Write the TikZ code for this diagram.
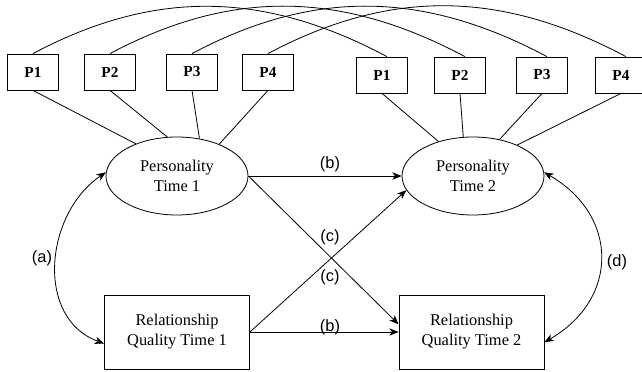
\documentclass[tikz,border=0pt]{standalone}
\usepackage{fontspec}
\setmainfont{Liberation Serif}
\setsansfont{Liberation Sans}
\usetikzlibrary{shapes.geometric,arrows.meta}

\tikzset{
  ind/.style={draw,minimum width=38.25pt,minimum height=27pt,inner sep=0pt,
    font=\fontsize{11.5}{13}\selectfont\bfseries},
  latent/.style={draw,ellipse,minimum width=106.5pt,minimum height=58.5pt,
    inner sep=0pt,align=center,font=\fontsize{12.3}{15}\selectfont},
  observed/.style={draw,minimum width=108.75pt,minimum height=55.5pt,
    inner sep=0pt,align=center,font=\fontsize{12.3}{15}\selectfont},
  lbl/.style={font=\sffamily\fontsize{12.3}{15}\selectfont}
}

\begin{document}
\begin{tikzpicture}[x=0.75pt,y=0.75pt,line width=0.6pt,
    >={Stealth[length=7pt,width=5.5pt,inset=2pt]}]
          \useasboundingbox (0,0) rectangle (642,371);
          % indicators
          \foreach \i/\x in {1/33,2/110,3/192,4/268}
            \node[ind] (P\i a) at (\x, 299) {P\i};
          \foreach \i/\x in {1/382,2/460,3/542,4/621}
            \node[ind] (P\i b) at (\x, 296) {P\i};
          % constructs
          \node[latent] (pers1) at (177, 195) {Personality\\Time 1};
          \node[latent] (pers2) at (473, 195) {Personality\\Time 2};
          \node[observed] (rq1) at (177, 39) {Relationship\\Quality Time 1};
          \node[observed] (rq2) at (471.5, 39) {Relationship\\Quality Time 2};
          % loadings
          \foreach \i/\a in {1/142,2/104,3/59,4/37}
            \draw (P\i a.south) -- (pers1.\a);
          \foreach \i/\a in {1/135,2/104,3/54,4/35}
            \draw (P\i b.south) -- (pers2.\a);
          % correlated errors
          \foreach \i in {1,...,4}
            \draw (P\i a.north) to[out=28,in=152] (P\i b.75);
          % paths
          \draw[->] (pers1.east) to (pers2.west);
          \draw[->] (rq1.east) to (rq2.west);
          \draw[->] (pers1.east) to (rq2.174);
          \draw[->] (rq1.east) to (pers2.192);
          \draw[<->] (pers1.177) to[out=214,in=160,looseness=1.1] (rq1.189);
          \draw[<->] (pers2.3) to[out=-30,in=30,looseness=1.3] (rq2.352);
          % labels
          \node[lbl] (la) at (42, 113) {(a)};
          \node[lbl] (lb1) at (330, 207) {(b)};
          \node[lbl] (lc1) at (330, 134) {(c)};
          \node[lbl] (lc2) at (330, 94) {(c)};
          \node[lbl] (lb2) at (330, 44) {(b)};
          \node[lbl] (ld) at (617, 109) {(d)};
        \end{tikzpicture}
\end{document}
